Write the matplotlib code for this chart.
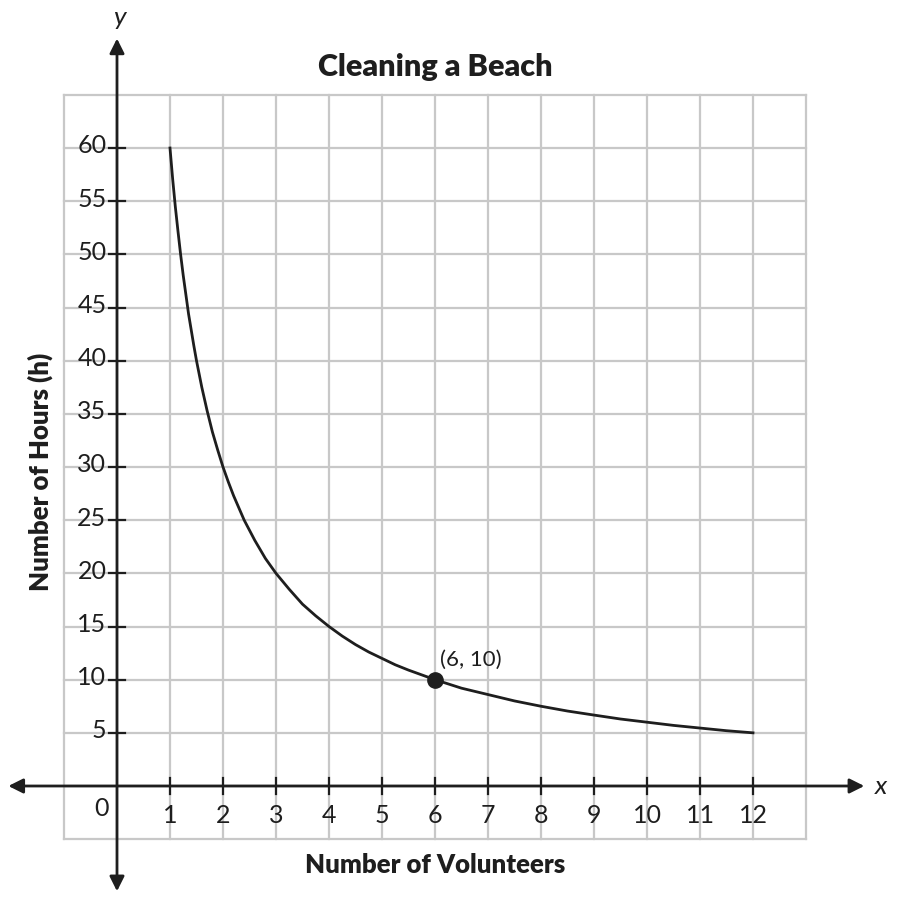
import matplotlib
matplotlib.use("Agg")
import matplotlib.pyplot as plt

# values
volunteers = [1, 1.05, 1.1, 1.15, 1.2, 1.25, 1.3, 1.35, 1.4, 1.45, 1.5, 1.6,
              1.7, 1.8, 1.9, 2, 2.1, 2.2, 2.4, 2.6, 2.8, 3, 3.25, 3.5, 3.75,
              4, 4.25, 4.5, 4.75, 5, 5.25, 5.5, 6, 6.5, 7, 7.5, 8, 8.5, 9,
              9.5, 10, 10.5, 11, 11.5, 12]
hours = [60, 57.1, 54.5, 52.2, 50, 48, 46.2, 44.4, 42.9, 41.4, 40, 37.5,
         35.3, 33.3, 31.6, 30, 28.6, 27.3, 25, 23.1, 21.4, 20, 18.5, 17.1, 16,
         15, 14.1, 13.3, 12.6, 12, 11.4, 10.9, 10, 9.2, 8.6, 8, 7.5, 7.05, 6.67,
         6.3, 6, 5.7, 5.45, 5.2, 5]
x_ticks = list(range(1, 13))
y_ticks = list(range(5, 65, 5))
marked_point = (6, 10)
marked_label = "(6, 10)"

title = "Cleaning a Beach"
x_label = "Number of Volunteers"
y_label = "Number of Hours (h)"

GRID = "#c8c8c8"
INK = "#1e1e1e"

plt.rcParams["font.family"] = ["Lato", "DejaVu Sans"]

fig = plt.figure(figsize=(9.02, 9.14), dpi=100)
ax = fig.add_axes([0, 0, 1, 1])
ax.set_xlim(-117 / 53, (902 - 117) / 53)
ax.set_ylim(-(914 - 786) / 10.633, 786 / 10.633)
ax.axis("off")

# grid, -1..13 by -5..65
for gx in range(-1, 14):
    ax.plot([gx, gx], [-5, 65], color=GRID, lw=1.6, zorder=1)
for gy in range(-5, 70, 5):
    ax.plot([-1, 13], [gy, gy], color=GRID, lw=1.6, zorder=1)

# axes with arrowheads
arrow = dict(arrowstyle="<|-|>", color=INK, lw=2, mutation_scale=22,
             shrinkA=0, shrinkB=0)
ax.annotate("", xy=(14.1, 0), xytext=(-2.05, 0), arrowprops=arrow, zorder=3)
ax.annotate("", xy=(0, 70.3), xytext=(0, -9.9), arrowprops=arrow, zorder=3)

# tick marks and labels
for tx in x_ticks:
    ax.plot([tx, tx], [-0.75, 0.75], color=INK, lw=1.6, zorder=3)
    ax.text(tx, -1.7, str(tx), ha="center", va="top", fontsize=18,
            color=INK)
for ty in y_ticks:
    ax.plot([-0.15, 0.15], [ty, ty], color=INK, lw=1.6, zorder=3)
    ax.text(-0.2, ty + 0.2, str(ty), ha="right", va="center", fontsize=18,
            color=INK)
ax.text(-0.3, -1.0, "0", ha="center", va="top", fontsize=18, color=INK)
ax.text(14.3, 0, "x", ha="left", va="center", fontsize=19, color=INK,
        style="italic")
ax.text(0.05, 71.2, "y", ha="center", va="bottom", fontsize=19, color=INK,
        style="italic")

# curve and marked point
ax.plot(volunteers, hours, color=INK, lw=2, zorder=4)
ax.plot(*marked_point, "o", color=INK, ms=11, zorder=5)
ax.text(marked_point[0] + 0.1, marked_point[1] + 0.9, marked_label,
        ha="left", va="bottom", fontsize=16, color=INK)

ax.text(6, 67.6, title, ha="center", va="center", fontsize=22,
        fontweight="heavy", color=INK)
ax.text(6, -7.4, x_label, ha="center", va="center", fontsize=18.5,
        fontweight="heavy", color=INK)
ax.text(-1.45, 29.5, y_label, ha="center", va="center", fontsize=18.5,
        fontweight="heavy", color=INK, rotation=90)

fig.savefig("out.png", dpi=100)
